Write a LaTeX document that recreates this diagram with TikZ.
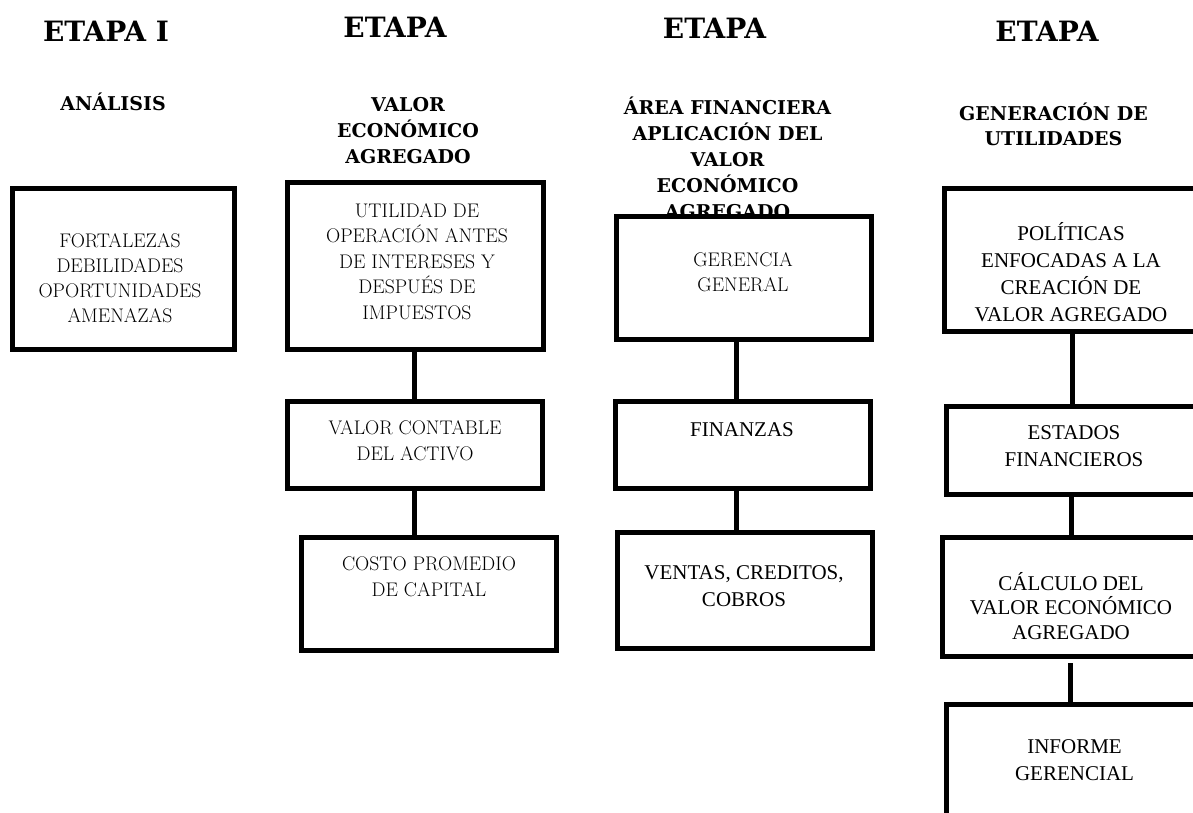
\documentclass[tikz,border=0pt]{standalone}
\usepackage{fontspec}
\setmainfont{Latin Modern Roman}
\newfontfamily\headfont{DejaVu Serif}
\newfontfamily\timesfont{Liberation Serif}
\tikzset{
  box/.style={draw, line width=5pt, fill=white, inner sep=0pt},
  link/.style={line width=5pt},
  head/.style={font=\headfont\bfseries\fontsize{28}{34}\selectfont, inner sep=0pt},
  sub/.style={font=\headfont\bfseries\fontsize{19}{#1}\selectfont, align=center, inner sep=0pt, anchor=north},
  sub/.default=26,
  lm/.style={font=\fontsize{19.7}{#1}\selectfont, align=center, inner sep=0pt, anchor=north},
  lm/.default=25.5,
  tm/.style={font=\timesfont\fontsize{21}{#1}\selectfont, align=center, inner sep=0pt, anchor=north},
  tm/.default=27,
}
\begin{document}
\begin{tikzpicture}[x=1pt,y=-1pt]
\useasboundingbox (0,0) rectangle (1193,812);
\clip (0,0) rectangle (1193,812);
% headings
\node[head] (h1) at (106,31.5) {ETAPA I};
\node[head] (h2) at (395,27.5) {ETAPA};
\node[head] (h3) at (714.5,28) {ETAPA};
\node[head] (h4) at (1047,31.5) {ETAPA};
\node[sub] (s1) at (113,93) {ANÁLISIS};
\node[sub] (s2) at (408,97) {VALOR\\ECONÓMICO\\AGREGADO};
\node[sub] (s3) at (727.5,97) {ÁREA FINANCIERA\\APLICACIÓN DEL\\VALOR\\ECONÓMICO\\AGREGADO};
\node[sub=25] (s4) at (1053.5,103) {GENERACIÓN DE\\UTILIDADES};
% boxes
\node[box, minimum width=222.5pt, minimum height=161pt] (A) at (123.25,269) {};
\node[box, minimum width=256pt, minimum height=167pt] (B1) at (415.5,266) {};
\node[box, minimum width=255pt, minimum height=87pt] (B2) at (415,445) {};
\node[box, minimum width=255pt, minimum height=113pt] (B3) at (429,594) {};
\node[box, minimum width=254.5pt, minimum height=123pt] (C1) at (743.75,277.5) {};
\node[box, minimum width=255pt, minimum height=87pt] (C2) at (743,445) {};
\node[box, minimum width=255pt, minimum height=116pt] (C3) at (745,590.5) {};
\node[box, minimum width=255.5pt, minimum height=143pt] (D1) at (1072.25,260) {};
\node[box, minimum width=253.5pt, minimum height=88pt] (D2) at (1073.25,450.5) {};
\node[box, minimum width=257.5pt, minimum height=119pt] (D3) at (1071.25,597) {};
\node[box, minimum width=253.5pt, minimum height=125.5pt] (D4) at (1073.25,767.25) {};
% connectors
\coordinate (xB) at (414,0);
\coordinate (xC) at (736,0);
\coordinate (xD1) at (1072,0);
\coordinate (xD2) at (1071,0);
\coordinate (xD3) at (1070,0);
\draw[link] (B1.south -| xB) -- (B2.north -| xB);
\draw[link] (B2.south -| xB) -- (B3.north -| xB);
\draw[link] (C1.south -| xC) -- (C2.north -| xC);
\draw[link] (C2.south -| xC) -- (C3.north -| xC);
\draw[link] (D1.south -| xD1) -- (D2.north -| xD1);
\draw[link] (D2.south -| xD2) -- (D3.north -| xD2);
\draw[link, shorten <=4pt] (D3.south -| xD3) -- (D4.north -| xD3);
% box texts
\node[lm=25] (tA) at (120,233) {FORTALEZAS\\DEBILIDADES\\OPORTUNIDADES\hspace*{17pt}\\AMENAZAS};
\node[lm] (tB1) at (417,203) {UTILIDAD DE\\OPERACIÓN ANTES\\DE INTERESES Y\\DESPUÉS DE\\IMPUESTOS};
\node[lm=26] (tB2) at (415,420) {VALOR CONTABLE\\DEL ACTIVO};
\node[lm=26] (tB3) at (429,557) {COSTO PROMEDIO\\DE CAPITAL};
\node[lm=25] (tC1) at (743,252) {GERENCIA\\GENERAL};
\node[tm] (tC2) at (742,422) {FINANZAS};
\node[tm] (tC3) at (744,565) {VENTAS, CREDITOS,\\COBROS};
\node[tm] (tD1) at (1071,222) {POLÍTICAS\\ENFOCADAS A LA\\CREACIÓN DE\\VALOR AGREGADO};
\node[tm] (tD2) at (1074,425) {ESTADOS\\FINANCIEROS};
\node[tm=24.5] (tD3) at (1071,572) {CÁLCULO DEL\\VALOR ECONÓMICO\\AGREGADO};
\node[tm] (tD4) at (1074.5,739) {INFORME\\GERENCIAL};
\end{tikzpicture}
\end{document}
